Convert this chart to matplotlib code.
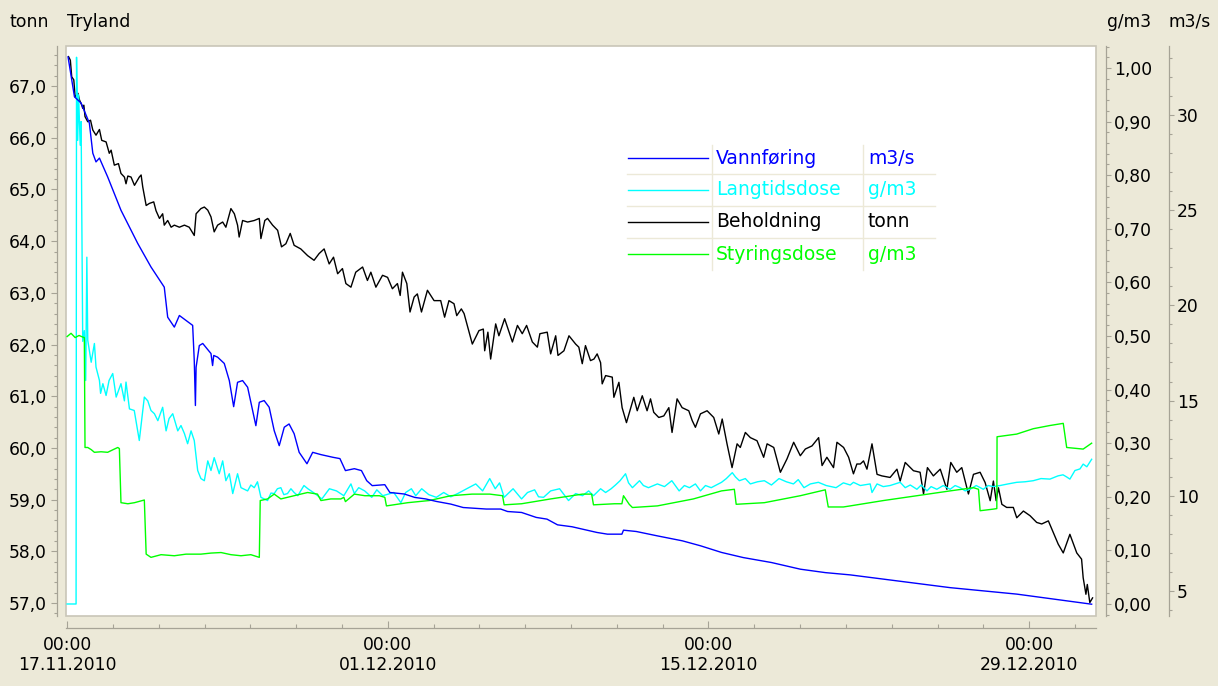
import numpy as np
import matplotlib
matplotlib.use("Agg")
import matplotlib.pyplot as plt
from matplotlib.ticker import FixedLocator, FixedFormatter, MultipleLocator, FuncFormatter
from matplotlib.lines import Line2D
from matplotlib.patches import Rectangle

# ---------------- data (days since 17.11.2010 00:00) ----------------
vann_pts = [(0.04,33.05),(0.32,30.96),(0.61,30.63),(0.97,29.58),(1.12,28.0),(1.26,27.54),(1.41,27.74),
            (1.77,26.75),(2.35,25.0),(3.08,23.26),(3.66,22.02),(4.24,20.96),(4.39,19.38),(4.68,18.86),
            (4.90,19.47),(5.48,18.95),(5.55,17.1),(5.60,14.74),(5.63,16.75),(5.77,17.89),(5.92,18.0),
            (6.28,17.47),(6.35,16.84),(6.40,17.37),(6.57,17.28),(6.86,16.95),(7.08,16.05),(7.27,14.68),
            (7.44,15.96),(7.66,16.05),(7.88,15.7),(8.24,13.68),(8.39,14.91),(8.60,15.0),(8.82,14.65),
            (9.04,13.42),(9.26,12.63),(9.48,13.6),(9.69,13.77),(9.91,13.26),(10.13,12.28),(10.47,11.68),
            (10.72,12.28),(11.08,12.16),(11.60,12.02),(11.91,11.95),(12.15,11.32),(12.54,11.42),
            (12.85,11.32),(13.08,10.79),(13.32,10.53),(13.87,10.58),(14.09,10.17),(14.72,10.09),
            (15.18,9.91),(15.66,9.83),(16.12,9.70),(16.75,9.56),(17.29,9.38),(18.30,9.30),(18.93,9.30),
            (19.23,9.17),(19.84,9.12),(20.48,8.86),(20.95,8.77),(21.41,8.47),(22.04,8.37),(23.13,8.07),
            (23.59,7.98),(24.22,7.98),(24.29,8.19),(24.85,8.12),(25.77,7.89),(26.86,7.63),(27.65,7.37),
            (28.57,7.02),(29.52,6.75),(30.75,6.49),(32.01,6.14),(33.10,5.96),(34.19,5.84),(38.55,5.17),
            (41.46,4.83),(44.73,4.30)]

lang_pts = [(0.0,0.0),(0.39,0.0),(0.41,1.02),(0.46,0.865),(0.50,0.95),(0.57,0.856),(0.61,0.90),
            (0.68,0.49),(0.75,0.51),(0.81,0.417),(0.86,0.647),(0.90,0.492),(1.05,0.451),(1.19,0.486),
            (1.26,0.442),(1.41,0.417),(1.46,0.393),(1.56,0.411),(1.70,0.389),(1.83,0.417),(1.99,0.430),
            (2.14,0.386),(2.35,0.411),(2.50,0.379),(2.57,0.414),(2.72,0.364),(2.93,0.361),(3.15,0.305),
            (3.37,0.386),(3.52,0.379),(3.66,0.361),(3.81,0.355),(3.96,0.342),(4.17,0.367),(4.32,0.323),
            (4.45,0.346),(4.61,0.355),(4.83,0.323),(4.97,0.333),(5.12,0.318),(5.26,0.299),(5.41,0.323),
            (5.55,0.305),(5.70,0.249),(5.84,0.234),(5.99,0.230),(6.14,0.267),(6.28,0.249),(6.42,0.273),
            (6.64,0.243),(6.79,0.267),(6.93,0.230),(7.08,0.243),(7.23,0.206),(7.44,0.243),(7.59,0.217),
            (7.88,0.211),(8.02,0.222),(8.17,0.217),(8.31,0.228),(8.46,0.199),(8.75,0.193),(8.90,0.207),
            (9.04,0.206),(9.18,0.215),(9.33,0.217),(9.46,0.204),(9.62,0.206),(9.77,0.215),(9.91,0.208),
            (10.07,0.202),(10.20,0.211),(10.34,0.221),(10.51,0.215),(10.82,0.206),(11.12,0.196),
            (11.45,0.215),(11.76,0.211),(12.08,0.202),(12.39,0.224),(12.54,0.206),(12.73,0.217),
            (12.99,0.211),(13.30,0.199),(13.52,0.213),(13.78,0.202),(14.26,0.208),(14.57,0.189),
            (14.78,0.208),(15.03,0.215),(15.22,0.202),(15.48,0.215),(15.79,0.204),(16.12,0.199),
            (16.44,0.208),(16.75,0.200),(17.05,0.206),(17.27,0.211),(17.53,0.217),(17.84,0.224),
            (18.14,0.211),(18.45,0.234),(18.69,0.215),(18.88,0.226),(19.08,0.199),(19.47,0.215),
            (19.84,0.196),(20.10,0.208),(20.41,0.213),(20.58,0.200),(20.80,0.199),(21.11,0.211),
            (21.50,0.215),(21.89,0.193),(22.20,0.206),(22.50,0.202),(22.77,0.211),(22.98,0.202),
            (23.29,0.215),(23.51,0.208),(23.75,0.215),(23.94,0.222),(24.14,0.230),(24.38,0.243),
            (24.51,0.226),(24.68,0.217),(24.99,0.230),(25.16,0.221),(25.38,0.217),(25.77,0.224),
            (26.08,0.219),(26.40,0.230),(26.72,0.211),(26.95,0.221),(27.17,0.217),(27.43,0.224),
            (27.65,0.211),(27.87,0.221),(28.12,0.217),(28.35,0.222),(28.57,0.227),(28.78,0.234),
            (29.04,0.245),(29.18,0.237),(29.35,0.230),(29.61,0.234),(29.83,0.224),(30.14,0.228),
            (30.44,0.230),(30.75,0.222),(31.08,0.234),(31.40,0.228),(31.71,0.224),(31.92,0.232),
            (32.17,0.217),(32.45,0.224),(32.80,0.227),(33.14,0.221),(33.57,0.217),(33.89,0.226),
            (34.19,0.222),(34.33,0.227),(34.63,0.221),(35.06,0.224),(35.14,0.208),(35.36,0.224),
            (35.63,0.219),(35.93,0.221),(36.37,0.227),(36.59,0.217),(36.81,0.222),(37.10,0.214),
            (37.29,0.222),(37.54,0.211),(37.72,0.219),(37.97,0.214),(38.25,0.221),(38.55,0.214),
            (38.77,0.221),(38.99,0.217),(39.21,0.211),(39.42,0.214),(39.69,0.221),(40.00,0.214),
            (40.21,0.221),(40.44,0.219),(40.73,0.221),(41.08,0.224),(41.46,0.227),(41.82,0.228),
            (42.18,0.230),(42.52,0.234),(42.91,0.233),(43.26,0.239),(43.48,0.241),(43.64,0.237),
            (43.78,0.233),(44.00,0.249),(44.22,0.252),(44.36,0.261),(44.52,0.256),(44.73,0.270)]

beh_pts = [(0.06,67.57),(0.14,67.50),(0.20,67.18),(0.29,67.12),(0.35,66.79),(0.47,66.86),(0.54,66.73),
           (0.64,66.63),(0.68,66.57),(0.73,66.63),(0.78,66.41),(0.90,66.31),(1.02,66.34),(1.12,66.15),
           (1.26,66.05),(1.41,66.16),(1.51,65.95),(1.70,65.92),(1.84,65.70),(1.92,65.76),(2.06,65.47),
           (2.24,65.50),(2.35,65.31),(2.50,65.24),(2.57,65.11),(2.65,65.26),(2.79,65.24),(2.94,65.08),
           (3.15,65.24),(3.23,65.28),(3.30,65.05),(3.45,64.69),(3.59,64.73),(3.78,64.76),(3.88,64.59),
           (4.03,64.44),(4.17,64.53),(4.24,64.31),(4.39,64.40),(4.54,64.27),(4.68,64.31),(4.90,64.27),
           (5.12,64.31),(5.33,64.27),(5.55,64.11),(5.63,64.53),(5.84,64.63),(5.99,64.66),(6.14,64.60),
           (6.28,64.47),(6.42,64.18),(6.57,64.31),(6.79,64.37),(6.93,64.27),(7.15,64.63),(7.30,64.53),
           (7.44,64.31),(7.51,64.08),(7.66,64.40),(7.88,64.37),(8.17,64.40),(8.39,64.44),(8.46,64.05),
           (8.63,64.40),(8.75,64.44),(8.97,64.31),(9.19,64.21),(9.36,63.89),(9.55,63.95),(9.74,64.15),
           (9.91,63.92),(10.20,63.85),(10.50,63.72),(10.78,63.63),(11.00,63.76),(11.22,63.85),
           (11.44,63.56),(11.63,63.69),(11.81,63.37),(12.02,63.47),(12.17,63.18),(12.39,63.11),
           (12.60,63.40),(12.90,63.50),(13.11,63.24),(13.26,63.40),(13.48,63.11),(13.77,63.34),
           (13.99,63.30),(14.20,63.08),(14.42,63.18),(14.54,62.95),(14.64,63.40),(14.83,63.18),
           (14.97,62.63),(15.15,62.92),(15.29,62.98),(15.47,62.63),(15.73,63.05),(16.02,62.85),
           (16.31,62.85),(16.48,62.53),(16.67,62.85),(16.89,62.79),(17.01,62.56),(17.21,62.69),
           (17.33,62.60),(17.47,62.37),(17.69,62.01),(17.98,62.27),(18.17,62.30),(18.23,61.88),
           (18.37,62.24),(18.49,61.72),(18.71,62.40),(18.85,62.17),(19.10,62.50),(19.44,62.05),
           (19.66,62.37),(19.87,62.21),(20.06,62.37),(20.31,62.05),(20.53,61.95),(20.64,62.21),
           (20.96,62.24),(21.11,61.82),(21.33,62.17),(21.43,61.79),(21.69,61.88),(21.91,62.17),
           (22.20,62.01),(22.34,61.95),(22.49,61.63),(22.63,61.98),(22.85,61.69),(23.00,61.72),
           (23.14,61.82),(23.29,61.65),(23.36,61.24),(23.51,61.40),(23.80,61.37),(23.87,60.98),
           (24.09,61.27),(24.23,60.78),(24.42,60.49),(24.74,60.98),(24.89,60.72),(25.11,61.01),
           (25.32,60.72),(25.47,60.95),(25.61,60.69),(25.83,60.59),(26.05,60.62),(26.27,60.78),
           (26.41,60.30),(26.63,60.95),(26.85,60.78),(27.14,60.72),(27.29,60.53),(27.43,60.40),
           (27.65,60.66),(27.94,60.72),(28.23,60.59),(28.45,60.27),(28.60,60.56),(28.81,60.08),
           (29.03,59.62),(29.25,60.08),(29.39,60.01),(29.61,60.30),(29.83,60.20),(30.12,60.14),
           (30.41,59.82),(30.56,60.08),(30.85,60.01),(31.14,59.53),(31.43,59.79),(31.72,60.11),
           (32.01,59.85),(32.23,59.98),(32.52,60.04),(32.81,60.20),(32.96,59.66),(33.17,59.82),
           (33.46,59.62),(33.61,60.11),(33.90,60.01),(34.12,59.82),(34.33,59.50),(34.48,59.69),
           (34.63,59.69),(34.77,59.75),(34.92,59.59),(35.14,60.08),(35.36,59.49),(35.57,59.46),
           (35.93,59.43),(36.23,59.59),(36.37,59.36),(36.59,59.72),(36.95,59.56),(37.24,59.53),
           (37.39,59.11),(37.56,59.62),(37.82,59.46),(38.12,59.59),(38.41,59.20),(38.58,59.72),
           (38.84,59.53),(39.06,59.62),(39.35,59.11),(39.57,59.49),(39.86,59.53),(40.08,59.33),
           (40.30,58.98),(40.44,59.36),(40.56,58.98),(40.66,59.23),(40.81,58.91),(41.02,58.85),
           (41.31,58.85),(41.46,58.65),(41.75,58.78),(42.04,58.69),(42.33,58.56),(42.55,58.53),
           (42.84,58.59),(43.06,58.36),(43.27,58.14),(43.49,57.97),(43.78,58.33),(44.08,57.97),
           (44.29,57.85),(44.36,57.49),(44.48,57.17),(44.54,57.36),(44.65,57.01),(44.77,57.10)]

styr_pts = [(0.0,0.499),(0.17,0.505),(0.35,0.497),(0.52,0.501),(0.68,0.498),(0.75,0.497),(0.78,0.292),
            (0.90,0.292),(1.05,0.288),(1.19,0.283),(1.48,0.284),(1.77,0.283),(2.01,0.288),(2.21,0.292),
            (2.28,0.290),(2.35,0.189),(2.65,0.187),(2.94,0.189),(3.37,0.194),(3.45,0.093),(3.66,0.087),
            (4.10,0.092),(4.68,0.090),(5.19,0.093),(5.84,0.093),(6.28,0.095),(6.72,0.096),(7.15,0.092),
            (7.59,0.090),(8.02,0.092),(8.39,0.087),(8.43,0.193),(8.75,0.196),(9.04,0.205),(9.33,0.196),
            (9.62,0.199),(10.20,0.205),(10.50,0.208),(10.93,0.205),(11.08,0.193),(11.51,0.196),
            (11.95,0.196),(12.08,0.199),(12.15,0.191),(12.54,0.205),(13.00,0.202),(13.63,0.202),
            (13.87,0.199),(13.94,0.183),(14.87,0.189),(15.81,0.193),(16.75,0.202),(17.68,0.205),
            (18.45,0.205),(19.01,0.202),(19.08,0.185),(19.84,0.187),(21.11,0.196),(22.50,0.205),
            (22.90,0.205),(22.98,0.185),(23.90,0.187),(24.22,0.187),(24.29,0.202),(24.54,0.186),
            (24.68,0.180),(25.77,0.183),(27.34,0.196),(28.57,0.211),(29.13,0.214),(29.21,0.186),
            (30.44,0.189),(32.01,0.202),(33.10,0.213),(33.23,0.181),(33.89,0.181),(34.19,0.183),
            (35.64,0.193),(37.10,0.202),(38.55,0.211),(39.57,0.217),(39.79,0.214),(39.86,0.174),
            (40.44,0.177),(40.59,0.178),(40.60,0.312),(41.46,0.317),(42.18,0.327),(42.91,0.333),
            (43.49,0.337),(43.64,0.292),(44.36,0.289),(44.73,0.300)]

vann_days, vann_vals = zip(*vann_pts)
lang_days, lang_vals = zip(*lang_pts)
beh_days, beh_vals = zip(*beh_pts)
styr_days, styr_vals = zip(*styr_pts)

xtick_days = [0, 14, 28, 42]
xtick_labels = ["00:00\n17.11.2010", "00:00\n01.12.2010", "00:00\n15.12.2010", "00:00\n29.12.2010"]

legend_names = ["Vannføring", "Langtidsdose", "Beholdning", "Styringsdose"]
legend_units = ["m3/s", "g/m3", "tonn", "g/m3"]
legend_colors = ["#0000ff", "#00ffff", "#000000", "#00ff00"]

# ---------------- layout ----------------
BG = "#ECE9D8"
AXC = "#a6a396"
W, H = 1218, 686
FS = 12.3
plt.rcParams['font.family'] = ['DejaVu Sans']

fig = plt.figure(figsize=(W / 100, H / 100), dpi=100, facecolor=BG)

def fx(px):
    return px / W

def fy(py):
    return 1 - py / H

L, R, T, B = 66, 1096, 46, 616
ax = fig.add_axes([fx(L), fy(B), (R - L) / W, (B - T) / H])
ax.set_facecolor("white")
axg = ax.twinx()
axq = ax.twinx()

# frame of plot area
ax.add_patch(Rectangle((0, 0), 1, 1, transform=ax.transAxes, fill=False,
                       ec="#c9c6b8", lw=1.2, clip_on=False, zorder=10))

# series
ax.plot(beh_days, beh_vals, color=legend_colors[2], lw=1.0, zorder=3)
axg.plot(lang_days, lang_vals, color=legend_colors[1], lw=1.0, zorder=2)
axg.plot(styr_days, styr_vals, color=legend_colors[3], lw=1.0, zorder=3)
axq.plot(vann_days, vann_vals, color=legend_colors[0], lw=1.0, zorder=2)

# x axis
ax.set_xlim(-0.05, 44.92)
ax.xaxis.set_major_locator(FixedLocator(xtick_days))
ax.xaxis.set_major_formatter(FixedFormatter(xtick_labels))
ax.xaxis.set_minor_locator(MultipleLocator(2))
ax.tick_params(axis="x", which="major", direction="in", length=5, width=0.8,
               color=AXC, labelsize=FS, pad=5.5, labelcolor="black")
ax.tick_params(axis="x", which="minor", direction="in", length=3, width=0.8, color=AXC)
for lab in ax.get_xticklabels():
    lab.set_linespacing(1.55)

# left axis (tonn)
ax.set_ylim(56.75, 67.775)
ax.yaxis.set_major_locator(MultipleLocator(1))
ax.yaxis.set_minor_locator(MultipleLocator(0.2))
ax.yaxis.set_major_formatter(FuncFormatter(lambda v, p: f"{v:.1f}".replace(".", ",")))
ax.tick_params(axis="y", which="major", direction="out", length=4.5, width=0.8,
               color=AXC, labelsize=FS, pad=3, labelcolor="black")
ax.tick_params(axis="y", which="minor", direction="out", length=2.5, width=0.8, color=AXC)

for s in ["top", "right"]:
    ax.spines[s].set_visible(False)
ax.spines["left"].set_position(("outward", 6.5))
ax.spines["bottom"].set_position(("outward", 8.6))
for s in ["left", "bottom"]:
    ax.spines[s].set_color(AXC)
    ax.spines[s].set_linewidth(0.9)

# right axis g/m3
axg.set_ylim(-0.0224, 1.041)
axg.yaxis.set_major_locator(MultipleLocator(0.1))
axg.yaxis.set_minor_locator(MultipleLocator(0.02))
axg.yaxis.set_major_formatter(FuncFormatter(lambda v, p: f"{v:.2f}".replace(".", ",").replace("-", "")))
axg.tick_params(axis="y", which="major", direction="out", length=3.6, width=0.8,
                color=AXC, labelsize=FS, pad=2.2, labelcolor="black")
axg.tick_params(axis="y", which="minor", direction="out", length=2.2, width=0.8, color=AXC)

# right axis m3/s
axq.set_ylim(3.68, 33.63)
axq.yaxis.set_major_locator(MultipleLocator(5))
axq.yaxis.set_minor_locator(MultipleLocator(1))
axq.yaxis.set_major_formatter(FuncFormatter(lambda v, p: f"{v:.0f}"))
axq.tick_params(axis="y", which="major", direction="out", length=3.6, width=0.8,
                color=AXC, labelsize=FS, pad=2.2, labelcolor="black")
axq.tick_params(axis="y", which="minor", direction="out", length=2.2, width=0.8, color=AXC)

for a, off in [(axg, 7.2), (axq, 52.6)]:
    for s in ["top", "left", "bottom"]:
        a.spines[s].set_visible(False)
    a.spines["right"].set_position(("outward", off))
    a.spines["right"].set_color(AXC)
    a.spines["right"].set_linewidth(0.9)

# header texts
fig.text(fx(10), fy(22), "tonn", fontsize=12.5, va="center", ha="left")
fig.text(fx(67), fy(22), "Tryland", fontsize=12.5, va="center", ha="left")
fig.text(fx(1107), fy(22), "g/m3", fontsize=12.3, va="center", ha="left")
fig.text(fx(1168), fy(22), "m3/s", fontsize=12.3, va="center", ha="left")

# legend table
rows_y = [158, 189.5, 221.5, 254]
for yy, name, unit, col in zip(rows_y, legend_names, legend_units, legend_colors):
    fig.add_artist(Line2D([fx(628), fx(708)], [fy(yy), fy(yy)], color=col, lw=1.0))
    fig.text(fx(716), fy(yy), name, color=col, fontsize=13.5, va="center", ha="left")
    fig.text(fx(868), fy(yy), unit, color=col, fontsize=13.5, va="center", ha="left")
for yy in [173.5, 205.5, 237.5]:
    fig.add_artist(Line2D([fx(627), fx(935)], [fy(yy), fy(yy)], color=BG, lw=1.0))
for xx in [711.5, 862.5]:
    fig.add_artist(Line2D([fx(xx), fx(xx)], [fy(145), fy(270)], color=BG, lw=1.0))

fig.savefig("out.png", dpi=100, facecolor=BG)
